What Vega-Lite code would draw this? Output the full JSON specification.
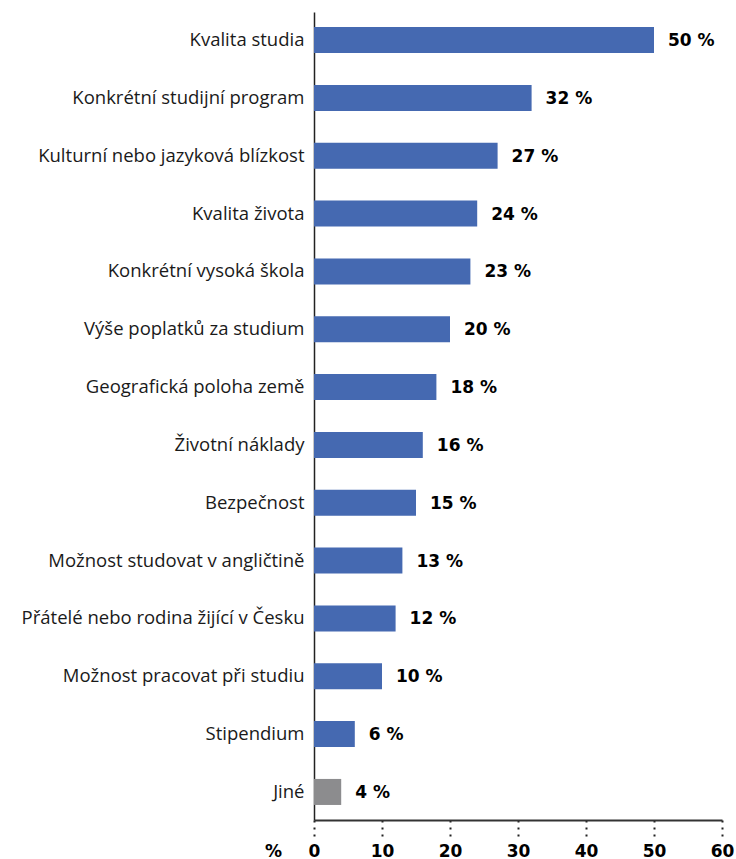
{
  "$schema": "https://vega.github.io/schema/vega-lite/v6.json",
  "autosize": "none",
  "width": 408,
  "height": 808,
  "padding": {"left": 314, "top": 12, "right": 14, "bottom": 39},
  "background": "white",
  "data": {
    "values": [
      {"kat": "Kvalita studia", "hodnota": 50, "typ": "a"},
      {"kat": "Konkrétní studijní program", "hodnota": 32, "typ": "a"},
      {"kat": "Kulturní nebo jazyková blízkost", "hodnota": 27, "typ": "a"},
      {"kat": "Kvalita života", "hodnota": 24, "typ": "a"},
      {"kat": "Konkrétní vysoká škola", "hodnota": 23, "typ": "a"},
      {"kat": "Výše poplatků za studium", "hodnota": 20, "typ": "a"},
      {"kat": "Geografická poloha země", "hodnota": 18, "typ": "a"},
      {"kat": "Životní náklady", "hodnota": 16, "typ": "a"},
      {"kat": "Bezpečnost", "hodnota": 15, "typ": "a"},
      {"kat": "Možnost studovat v angličtině", "hodnota": 13, "typ": "a"},
      {"kat": "Přátelé nebo rodina žijící v Česku", "hodnota": 12, "typ": "a"},
      {"kat": "Možnost pracovat při studiu", "hodnota": 10, "typ": "a"},
      {"kat": "Stipendium", "hodnota": 6, "typ": "a"},
      {"kat": "Jiné", "hodnota": 4, "typ": "b"}
    ]
  },
  "encoding": {
    "y": {
      "field": "kat",
      "type": "nominal",
      "sort": null,
      "scale": {"paddingInner": 0.55, "paddingOuter": 0.26},
      "axis": {
        "title": null,
        "ticks": false,
        "labelPadding": 10,
        "labelFont": "Open Sans",
        "labelFontSize": 18.5,
        "labelColor": "#1a1a1a",
        "labelLimit": 320,
        "domainColor": "#222222",
        "domainWidth": 1.5
      }
    },
    "x": {
      "field": "hodnota",
      "type": "quantitative",
      "scale": {"domain": [0, 60], "nice": false},
      "axis": {
        "values": [0, 10, 20, 30, 40, 50, 60],
        "grid": false,
        "title": "%",
        "titleAngle": 0,
        "titleX": -41,
        "titleY": 36,
        "titleAlign": "center",
        "titleBaseline": "alphabetic",
        "titleFont": "DejaVu Sans",
        "titleFontWeight": "bold",
        "titleFontSize": 17,
        "titleColor": "#000000",
        "labelFont": "DejaVu Sans",
        "labelFontWeight": "bold",
        "labelFontSize": 17,
        "labelColor": "#000000",
        "labelPadding": 6,
        "labelFlush": false,
        "tickSize": 17,
        "tickDash": [2, 5],
        "tickColor": "#222222",
        "tickWidth": 2,
        "domainColor": "#333333",
        "domainWidth": 2
      }
    }
  },
  "layer": [
    {
      "mark": {"type": "bar"},
      "encoding": {
        "color": {
          "field": "typ",
          "type": "nominal",
          "scale": {"domain": ["a", "b"], "range": ["#4569b1", "#8c8c8e"]},
          "legend": null
        }
      }
    },
    {
      "transform": [{"calculate": "datum.hodnota + ' %'", "as": "popisek"}],
      "mark": {
        "type": "text",
        "align": "left",
        "baseline": "middle",
        "dx": 14,
        "dy": 1,
        "font": "DejaVu Sans",
        "fontWeight": "bold",
        "fontSize": 17,
        "color": "#000000"
      },
      "encoding": {
        "text": {"field": "popisek", "type": "nominal"}
      }
    }
  ],
  "config": {"view": {"stroke": null}}
}
